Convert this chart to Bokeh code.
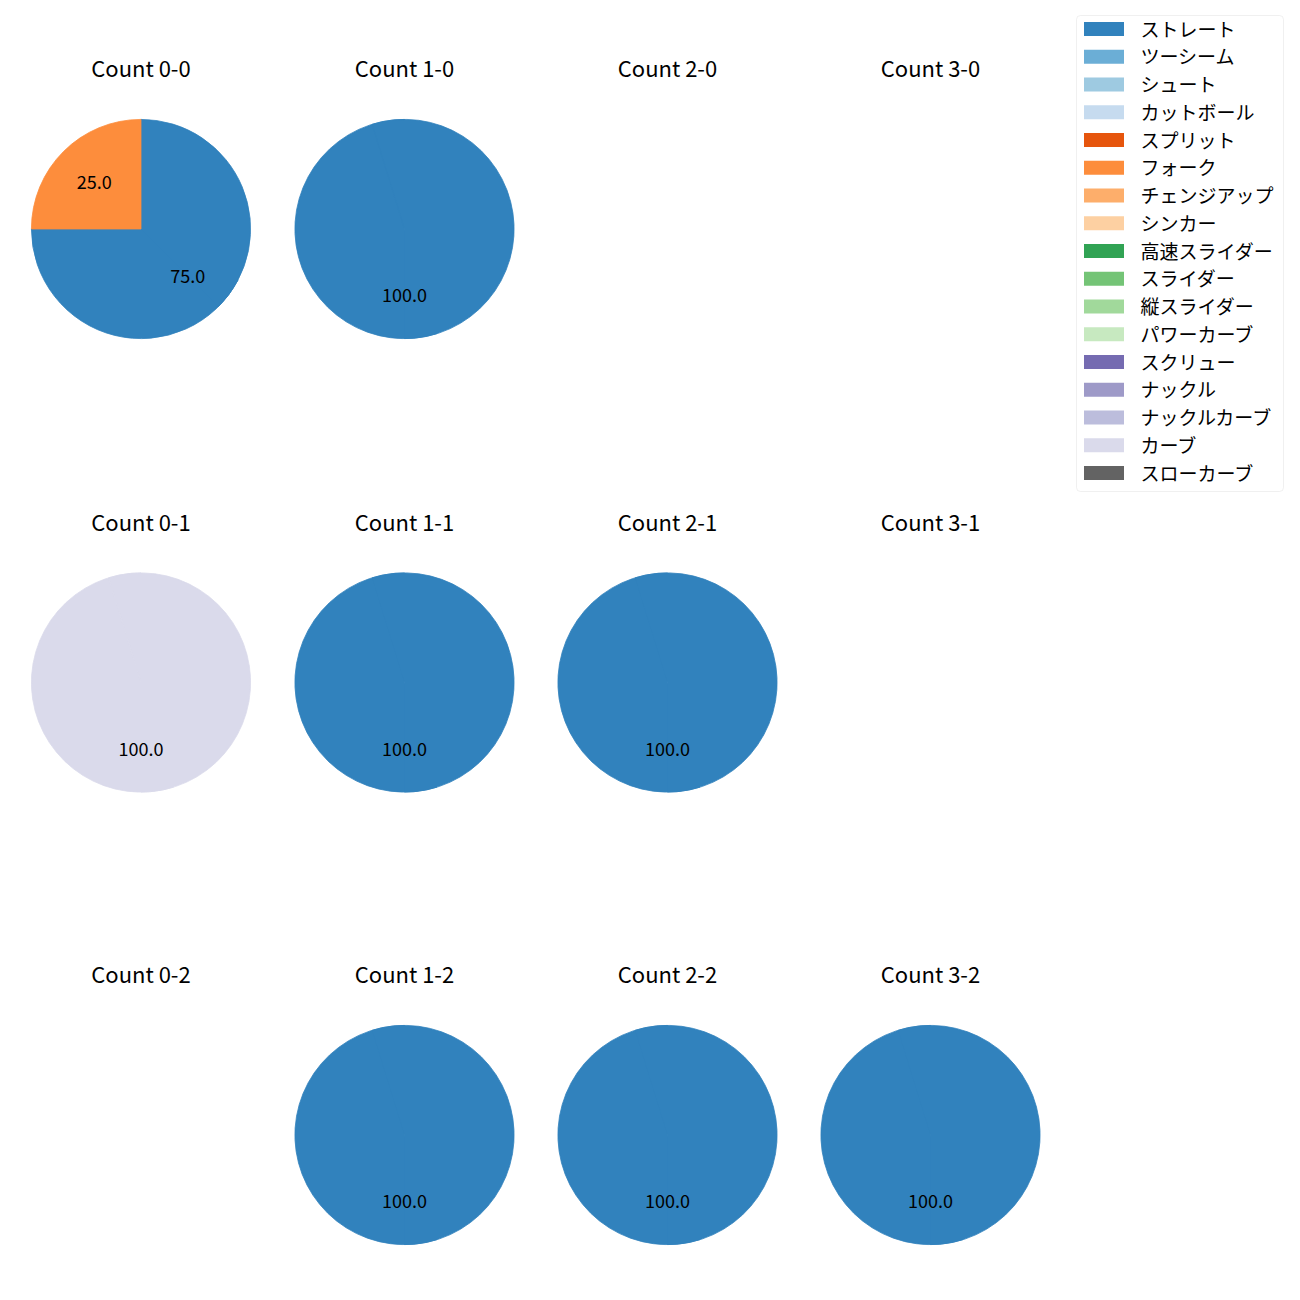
import math
from bokeh.plotting import figure
from bokeh.models import Range1d, BoxAnnotation
from bokeh.core.properties import value
from bokeh.embed import file_html
from bokeh.resources import INLINE

# ---------------- data ----------------
pitch_types = ["ストレート", "ツーシーム", "シュート", "カットボール", "スプリット", "フォーク",
               "チェンジアップ", "シンカー", "高速スライダー", "スライダー", "縦スライダー",
               "パワーカーブ", "スクリュー", "ナックル", "ナックルカーブ", "カーブ", "スローカーブ"]
pitch_colors = ["#3182bd", "#6baed6", "#9ecae1", "#c6dbef", "#e6550d", "#fd8d3c",
                "#fdae6b", "#fdd0a2", "#31a354", "#74c476", "#a1d99b", "#c7e9c0",
                "#756bb1", "#9e9ac8", "#bcbddc", "#dadaeb", "#636363"]

# panels: count = balls-strikes, columns = balls, rows = strikes
balls = [0, 1, 2, 3, 0, 1, 2, 3, 0, 1, 2, 3]
strikes = [0, 0, 0, 0, 1, 1, 1, 1, 2, 2, 2, 2]
# percentage share of each pitch type per panel (only non-zero types listed)
straight = [75, 100, 0, 0, 0, 100, 100, 0, 0, 100, 100, 100]
fork = [25, 0, 0, 0, 0, 0, 0, 0, 0, 0, 0, 0]
curve = [0, 0, 0, 0, 100, 0, 0, 0, 0, 0, 0, 0]
shares = {"ストレート": straight, "フォーク": fork, "カーブ": curve}

# ---------------- layout ----------------
W, H = 1300, 1300
col_x = [140.5, 404, 667, 930]
row_y = [228.5, 682, 1134.5]
R = 110
TITLE_DY = 162
FONT = "Noto Sans CJK JP"
OVERLAP = 0.3

p = figure(width=W, height=H, output_backend="svg", toolbar_location=None,
           x_range=Range1d(0, W), y_range=Range1d(0, H), min_border=0,
           outline_line_color=None)
p.xaxis.visible = False
p.yaxis.visible = False
p.grid.visible = False
p.background_fill_color = "white"
p.border_fill_color = "white"

# legend frame (drawn underneath the glyphs)
LEG_L, LEG_R, LEG_T, LEG_B = 1076, 1283, 15, 491
p.add_layout(BoxAnnotation(left=LEG_L, right=LEG_R, top=H - LEG_T, bottom=H - LEG_B,
                           fill_color="white", fill_alpha=0.8, line_color="#cccccc",
                           line_width=1, border_radius=4, level="underlay"))

wx, wy, ws, we, wc = [], [], [], [], []
lx, ly, lt = [], [], []
tx, ty, tt = [], [], []

for k in range(len(balls)):
    cx = col_x[balls[k]]
    cy_pix = row_y[strikes[k]]
    cy = H - cy_pix
    tx.append(cx)
    ty.append(H - (cy_pix - TITLE_DY))
    tt.append(f"Count {balls[k]}-{strikes[k]}")
    vals = [(name, shares[name][k] if name in shares else 0) for name in pitch_types]
    vals = [(n, v) for n, v in vals if v > 0]
    total = sum(v for _, v in vals)
    if total == 0:
        continue
    cum = 0.0
    for name, v in vals:
        frac0 = cum / total
        cum += v
        frac1 = cum / total
        full = (frac1 - frac0) > 0.9999
        # clockwise from 90 degrees
        a_start = math.pi / 2 - frac1 * 2 * math.pi
        a_end = math.pi / 2 - frac0 * 2 * math.pi
        color = pitch_colors[pitch_types.index(name)]
        # split into pieces of at most 180 degrees, overlapping so no seam shows
        n = max(1, math.ceil((a_end - a_start) / math.pi - 1e-9))
        step = (a_end - a_start) / n
        for j in range(n):
            s = a_start + j * step
            e = a_start + (j + 1) * step
            if j < n - 1 or full:
                e += OVERLAP
            wx.append(cx); wy.append(cy)
            ws.append(s); we.append(e)
            wc.append(color)
        mid = (a_start + a_end) / 2
        lx.append(cx + 0.6 * R * math.cos(mid))
        ly.append(cy + 0.6 * R * math.sin(mid))
        lt.append(f"{100.0 * v / total:.1f}")

p.wedge(x=wx, y=wy, radius=R - 0.4, start_angle=ws, end_angle=we, direction="anticlock",
        fill_color=wc, line_color=wc, line_width=0.8)
p.text(x=lx, y=ly, text=lt, text_align="center", text_baseline="middle",
       text_font=value(FONT), text_font_size="18px", text_color="black")
p.text(x=tx, y=ty, text=tt, text_align="center", text_baseline="middle",
       text_font=value(FONT), text_font_size="22px", text_color="black")

# ---------------- legend entries ----------------
ent_y = [H - (28.5 + i * 27.75) for i in range(len(pitch_types))]
p.rect(x=[1103.5] * len(pitch_types), y=ent_y, width=40, height=14,
       fill_color=pitch_colors, line_color=None)
p.text(x=[1140] * len(pitch_types), y=[v + 1 for v in ent_y], text=pitch_types,
       text_align="left", text_baseline="middle", text_font=value(FONT),
       text_font_size="19px", text_color="black")

open("out.html", "w").write(file_html(p, INLINE))
